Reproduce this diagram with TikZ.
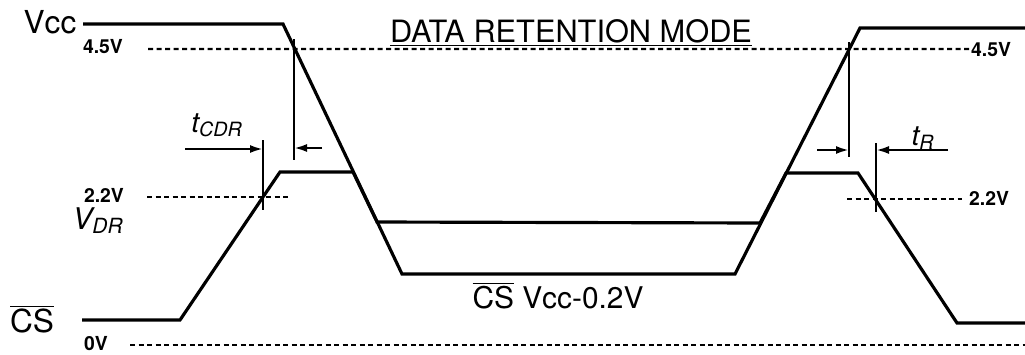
\documentclass[tikz,border=0pt]{standalone}
\usepackage{fontspec}
\setmainfont{TeX Gyre Heros}
\usetikzlibrary{arrows.meta}

\begin{document}
\begin{tikzpicture}
  [x=0.2mm,y=-0.2mm,every node/.style={inner sep=0pt,anchor=base}]
  \tikzstyle{wave} = [line width=1.8pt]
  \tikzstyle{level} = [line width=1.3pt,dash pattern=on 1mm off 0.7mm]
  \tikzstyle{tick} = [line width=1.3pt]
  \tikzstyle{dim} = [line width=1.3pt,-{Latex[length=2.6mm,width=1.6mm]}]
  \tikzstyle{volt} = [font=\fontsize{11}{13}\selectfont\bfseries]
  \tikzstyle{sig} = [font=\fontsize{18}{21}\selectfont]
  \tikzstyle{time} = [font=\fontsize{16}{19}\selectfont\itshape]
  \useasboundingbox (0,0) rectangle (1025,354);

  % labels
  \node[sig]  (vcc)  at (50,33)   {Vcc};
  \node[sig]  (cs)   at (32,332)  {$\overline{\mbox{CS}}$};
  \node[time,font=\fontsize{17}{20}\selectfont\itshape] (vdr) at (98,229) {V\textsubscript{DR}};
  \node[volt] (l45)  at (103,53)  {4.5V};
  \node[volt] (r45)  at (991,56)  {4.5V};
  \node[volt] (l22)  at (104,202) {2.2V};
  \node[volt] (r22)  at (989,205) {2.2V};
  \node[volt] (l0)   at (96,350)  {0V};
  \node[sig,font=\fontsize{17.5}{21}\selectfont] (mode) at (571,42) {\underline{DATA RETENTION MODE}};
  \node[sig,font=\fontsize{17}{20}\selectfont] (csv) at (558,308) {$\overline{\mbox{CS}}$ Vcc-0.2V};
  \node[time] (tcdr) at (217,132) {t\textsubscript{CDR}};
  \node[time] (tr)   at (923,145) {t\textsubscript{R}};

  % level lines
  \coordinate (d45) at (148,49);
  \coordinate (d22a) at (147,197);
  \coordinate (d22b) at (290,197);
  \coordinate (d22c) at (847,199);
  \coordinate (d22d) at (962,199);
  \coordinate (d0a) at (130,345);
  \coordinate (d0b) at (1025,345);
  \foreach \source/\dest in {d45/r45,d22a/d22b,d22c/d22d,d0a/d0b}
    \draw[level] (\source) -- (\dest);

  % waveforms
  \draw[wave] (83,24) -- (283,24) -- (402,274) -- (735,274) -- (860,28) -- (1025,28);
  \draw[wave] (82,320) -- (180,320) -- (263,197) -- (280,172) -- (353,172) -- (377,222)
    -- (760,223) -- (786,173) -- (858,173) -- (957,323) -- (1025,323);

  % timing marks
  \coordinate (c1) at (263,197);
  \coordinate (c2) at (294,49);
  \coordinate (c3) at (849,49);
  \coordinate (c4) at (876,199);
  \foreach \pt/\up/\len in {c1/-57/70,c2/-10/121,c3/-7/115,c4/-56/69}
    \draw[tick] (\pt) ++(0,\up) -- ++(0,\len);
  \foreach \pt/\dx/\dy in {c1/-78/-48,c2/28/99,c3/-32/101,c4/72/-49}
    \draw[dim] (\pt) ++(\dx,\dy) -- ++(-\dx,0);
\end{tikzpicture}
\end{document}
